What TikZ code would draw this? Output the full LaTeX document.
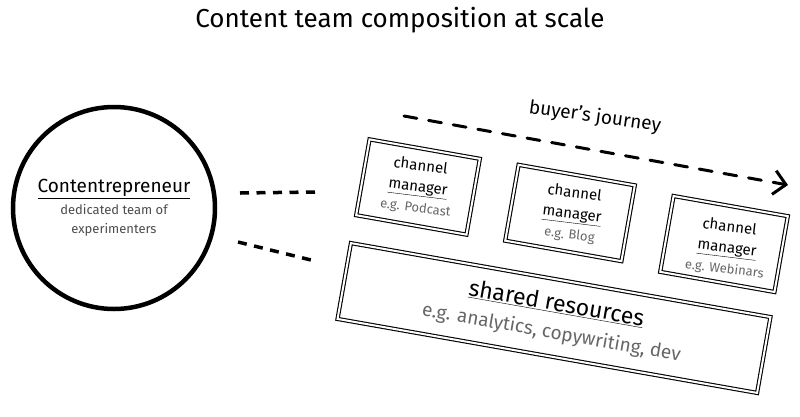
\documentclass[tikz,border=0pt]{standalone}
\usepackage{fontspec}
\setmainfont{Fira Sans}
\usetikzlibrary{arrows.meta}

\newcommand{\chantext}[1]{%
  channel\\
  \underline{manager}\\
  {\fontsize{13}{15}\selectfont\color{black!60}#1}}

\begin{document}
\begin{tikzpicture}[
    x=1pt, y=-1pt,
    every node/.style={inner sep=0pt},
    hub/.style={
        circle,
        draw=black,
        line width=4.5pt,
        minimum size=202pt,
        align=center,
        font=\fontsize{13}{19}\selectfont
    },
    sketchbox/.style={
        rectangle,
        draw=black,
        line width=1.1pt,
        double=white,
        double distance=2pt,
        rotate=-10
    },
    chanbox/.style={
        sketchbox,
        minimum width=112pt,
        minimum height=77pt
    },
    chanlabel/.style={align=center, rotate=-7, font=\fontsize{15}{21}\selectfont},
    dashes/.style={line width=3pt, line cap=round, dash pattern=on 13pt off 12pt},
    shortdashes/.style={line width=3.5pt, dash pattern=on 9pt off 7.5pt},
    journey/.style={dashes, -{Straight Barb[length=12pt,width=24pt,line width=3pt]}}
]
\useasboundingbox (0,0) rectangle (800,416);

% title
\node (title) at (400,20) {\fontsize{26}{30}\selectfont Content team composition at scale};

% contentrepreneur
\node[hub] (hub) at (114,208) {%
  {\fontsize{19}{22}\selectfont\underline{Contentrepreneur}}\\[3pt]
  {\color{black!70}dedicated team of}\\
  {\color{black!70}experimenters}};

% channel managers
\node[chanbox] (podcast) at (418,187) {};
\node[chanbox, minimum width=118pt] (blog) at (570,213) {};
\node[chanbox, minimum width=116pt] (webinars) at (724,244) {};

\node[chanlabel] (podcastlabel) at (418,187) {\chantext{e.g. Podcast}};
\node[chanlabel] (bloglabel) at (572,214) {\chantext{e.g. Blog}};
\node[chanlabel] (webinarslabel) at (727,248) {\chantext{e.g. Webinars}};

% shared resources
\node[sketchbox, minimum width=426pt, minimum height=77pt] (shared) at (554,318) {};
\node[align=center, rotate=-10, font=\fontsize{23}{28}\selectfont] (sharedlabel) at (554,318) {%
  \underline{shared resources}\\
  {\fontsize{19}{22}\selectfont\color{black!60}e.g. analytics, copywriting, dev}};

% links from the hub
\coordinate (linkA1) at (240,193);
\coordinate (linkA2) at (315,192);
\coordinate (linkB1) at (238,242);
\coordinate (linkB2) at (311,260);
\draw[shortdashes] (linkA1) -- (linkA2);
\draw[shortdashes] (linkB1) -- (linkB2);

% buyer's journey
\coordinate (jstart) at (404,116);
\coordinate (jend) at (788,185);
\draw[journey] (jstart) -- (jend);
\node[font=\fontsize{19}{22}\selectfont, rotate=-8] (journeylabel) at (595,117) {buyer's journey};

\end{tikzpicture}
\end{document}
